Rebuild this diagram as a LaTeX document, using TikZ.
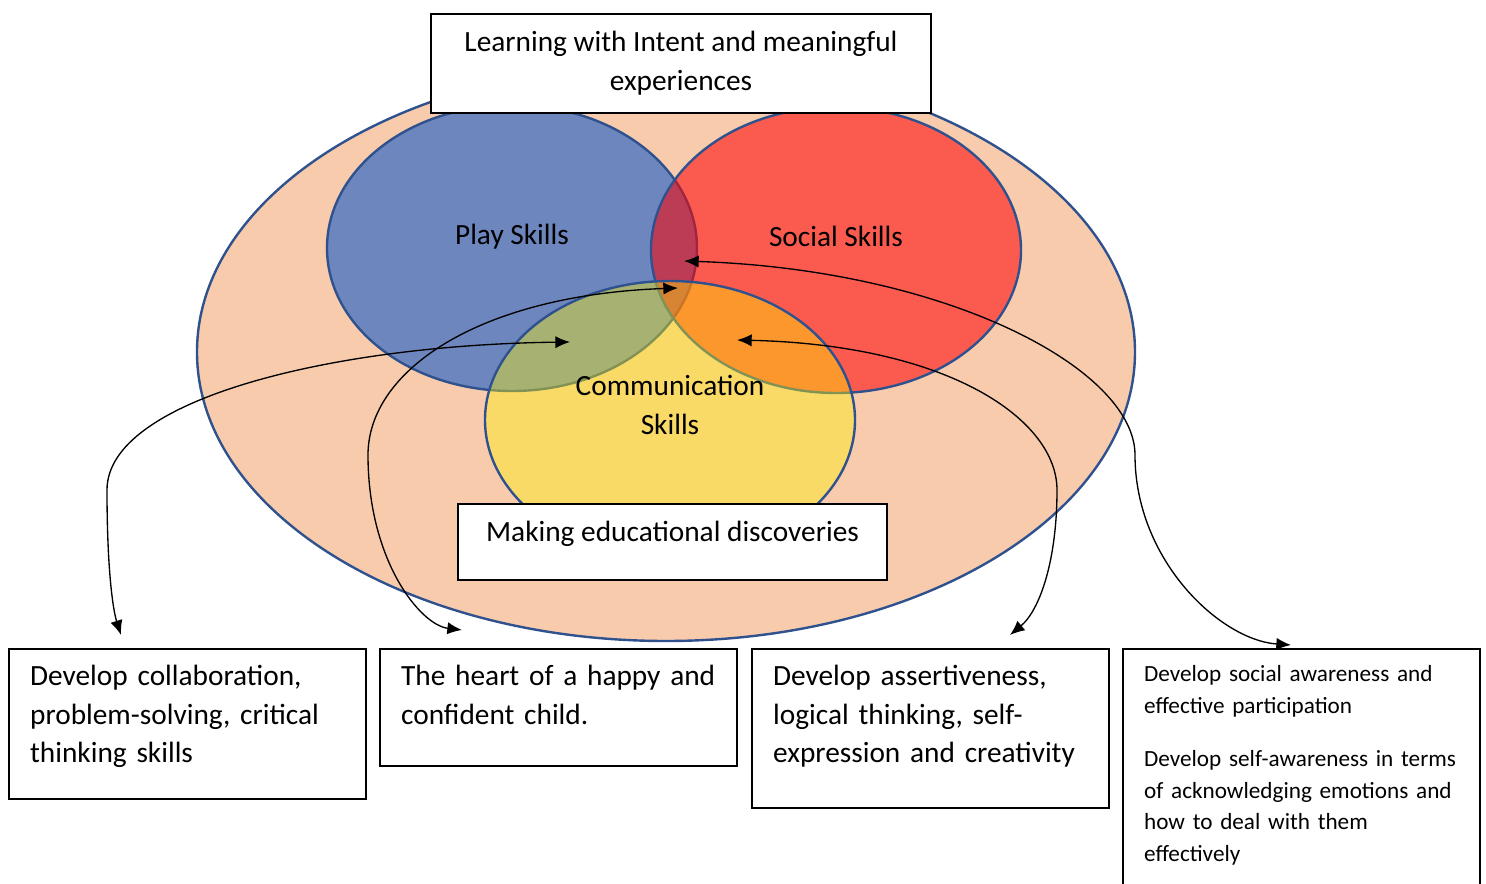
\documentclass[tikz,border=0pt]{standalone}
\usepackage{fontspec}
\setmainfont{Carlito}
\usetikzlibrary{positioning, shapes.geometric, arrows.meta}

\definecolor{peach}{HTML}{F8CBAD}
\definecolor{playblue}{HTML}{4472C4}
\definecolor{rimblue}{HTML}{2F528F}

\begin{document}
\begin{tikzpicture}[x=0.375pt, y=-0.375pt, font=\fontsize{11}{14.6}\selectfont]
    % Styles
    \tikzstyle{skill} = [ellipse, draw=rimblue, line width=0.9pt, inner sep=0pt, minimum width=138.75pt, minimum height=107.25pt]
    \tikzstyle{box} = [draw, line width=0.8pt, fill=white, anchor=north west, align=left, text width=118.2pt, inner xsep=7.9pt, inner ysep=5.5pt, text height=8pt]
    \tikzstyle{title box} = [draw, line width=0.8pt, fill=white, align=center, inner sep=0pt]
    \tikzstyle{link} = [{Latex[length=5.5pt,width=4.6pt]}-{Latex[length=5.5pt,width=4.6pt]}, line width=0.5pt]

    \useasboundingbox (0,0) rectangle (1486,884);

    % Ellipses
    \node[skill, fill=peach, minimum width=351.75pt, minimum height=216.75pt] (world) at (666,352) {};
    \node[skill, fill=playblue, fill opacity=0.77] (play) at (512,248) {};
    \node[skill, fill=red, fill opacity=0.55] (social) at (836,250) {};
    \node[skill, fill=yellow, fill opacity=0.4, minimum height=104.25pt] (comm) at (670,420) {};

    \node (play label) at (512,237) {Play Skills};
    \node (social label) at (836,236) {Social Skills};
    \node[align=center] (comm label) at (670,405) {Communication\\Skills};

    % Boxes
    \node[title box, minimum width=187.5pt, minimum height=37.1pt] (intent) at (681,63.5) {Learning with Intent and meaningful\\experiences};
    \node[title box, anchor=north, minimum width=160.9pt, inner ysep=5.2pt, text height=8.9pt, text depth=9.2pt] (discover) at (672.5,503) {Making educational discoveries};

    \node[box, text depth=37.25pt] (collab) at (8,648) {Develop collaboration,\\problem-solving, critical\\thinking skills};
    \node[box, text depth=24.9pt] (heart) at (379,648) {The heart of a happy and\\confident child.};
    \node[box, text depth=40.6pt] (assert) at (751,648) {Develop assertiveness,\\logical thinking, self-\\expression and creativity};
    \node[box, text height=6.7pt, text depth=77pt, font=\fontsize{8.7}{11.9}\selectfont] (aware) at (1122,648) {Develop social awareness and\\effective participation\\[8pt]Develop self-awareness in terms\\of acknowledging emotions and\\how to deal with them\\effectively};

    % Edges
    \coordinate (pc) at (570,342);
    \coordinate (pcs) at (678,288);
    \coordinate (cs) at (737,340);
    \coordinate (ps) at (684,261);
    \coordinate (collab tip) at (121,635);
    \coordinate (heart tip) at (462,630);
    \coordinate (assert tip) at (1010,635);
    \coordinate (aware tip) at (1291,645);

    \draw[link] (pc) .. controls (330,345) and (107,400) .. (107,490) .. controls (107,570) and (113,610) .. (collab tip);
    \draw[link] (pcs) .. controls (480,295) and (368,370) .. (368,455) .. controls (368,560) and (420,625) .. (heart tip);
    \draw[link] (cs) .. controls (950,345) and (1057,420) .. (1057,490) .. controls (1057,560) and (1040,610) .. (assert tip);
    \draw[link] (ps) .. controls (950,270) and (1135,370) .. (1135,455) .. controls (1135,560) and (1220,640) .. (aware tip);
\end{tikzpicture}
\end{document}
